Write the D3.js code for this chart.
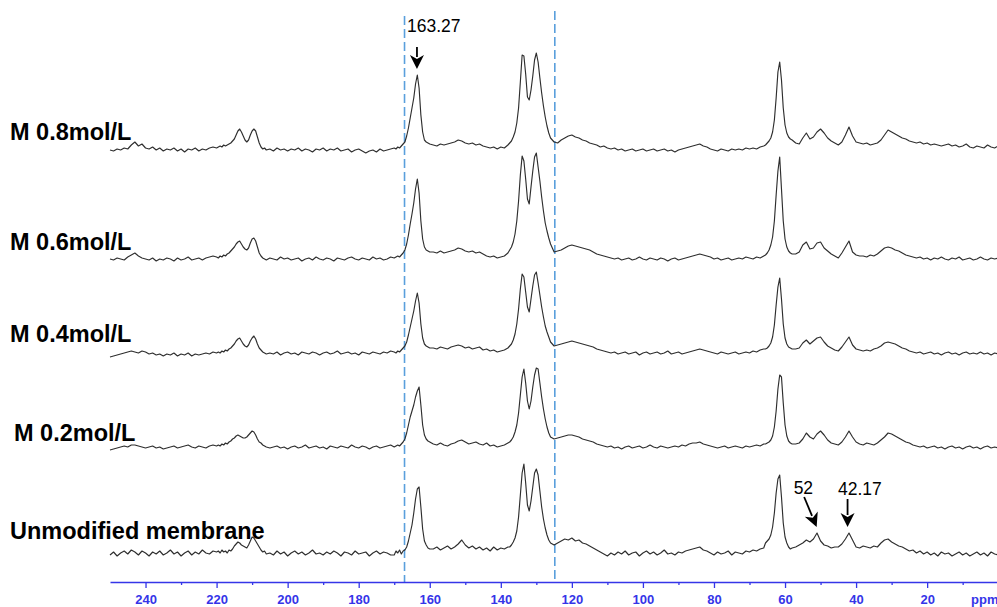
<!DOCTYPE html>
<html><head><meta charset="utf-8">
<script src="https://cdn.jsdelivr.net/npm/d3@7"></script>
<style>body{margin:0;background:#fff;overflow:hidden}</style>
</head><body>
<svg id="chart" width="997" height="607"></svg>
<script>
// ---- chemical-shift sampling segments [start ppm, end ppm, step] ----
const ppmSegments = [[250,221,1],[220,206,0.5],[205,171,1],[170,160,0.5],[159,138,1],[137.5,126,0.5],[125,66,1],[65.5,58,0.5],[57,0,1]];

// ---- intensities, one sub-array per segment ----
const spec08 = [
 [0,-1,1,0,2,1,5,8,4,6, 2,1,3,0,2,-1,1,0,2,-1, 1,-2,1,0,2,-1,1,0,2,3],
 [2,3,4,3,5,4,5,6,7,9, 11,15,19,21,18,14,10,8,10,15, 19,21,19,13,7,3,1,2,0],
 [1,-1,2,0,1,-1,1,0,2,-1, 1,0,-2,1,0,2,-1,1,0,2, -1,0,1,-2,0,1,-1,-3,-1,0, -2,1,-1,0,1],
 [2,1,3,2,4,6,8,14,22,32, 42,52,66,75,62,35,18,10,8,7, 6],
 [5,4,6,5,6,7,8,10,9,7, 6,7,5,6,4,3,2,3,1,3, 2,5],
 [7,9,13,18,27,42,68,95,94,76, 53,50,60,74,90,97,88,72,57,44, 33,24,17,12],
 [8,7,10,12,14,15,13,12,10,9, 7,6,5,3,4,2,1,2,0,1, -1,0,1,-1,0,1,-1,0,1,-1, 0,1,-1,0,-2,0,1,2,3,4, 5,6,4,3,1,0,-1,1,0,-1, 1,0,1,0,2,1,2,1,3,4],
 [5,7,9,12,18,30,52,78,88,70, 42,25,17,13,11,10],
 [7,6,12,17,11,13,18,21,17,12, 9,7,5,8,15,23,14,8,7,6, 7,5,6,7,10,15,20,18,16,14, 12,11,9,8,7,8,6,7,5,6, 5,4,5,6,4,5,3,4,6,3, 2,4,3,2,5,3,2,4]
];
const spec06 = [
 [0,-1,1,0,-1,2,4,6,3,1, 0,-1,1,-2,0,-1,1,0,-2,1, -1,0,2,-1,0,1,-1,1,2,3],
 [2,1,3,2,4,3,5,6,8,10, 12,15,17,18,15,12,10,9,11,16, 20,21,18,12,6,3,1,0,-1],
 [1,0,-1,2,0,1,-1,0,1,-2, 0,1,-1,2,0,-1,1,0,-2,1, 0,-1,1,2,0,-1,1,0,-1,2, 0,1,-1,0,2],
 [1,2,3,2,4,6,9,15,24,35, 45,56,70,80,66,38,20,12,9,8, 7],
 [7,6,8,6,7,8,9,11,10,8, 7,8,6,7,5,3,2,3,1,2, 3,6],
 [9,12,17,25,38,58,84,103,98,80, 60,55,72,88,102,106,92,78,62,48, 36,28,21,15],
 [7,8,9,11,13,14,13,12,11,10, 9,7,5,4,3,2,1,0,1,-1, 0,1,-1,0,2,0,-1,1,0,-1, 1,0,-2,0,1,-1,0,1,2,3, 4,5,4,3,2,0,1,-1,0,1, -1,0,1,0,2,1,0,2,1,3],
 [4,6,9,14,22,38,64,88,102,70, 38,20,12,8,6,5],
 [5,7,14,17,10,11,16,17,11,8, 5,3,1,6,12,18,7,4,3,3, 2,4,3,5,8,11,12,11,9,8, 6,4,3,2,1,2,0,1,-1,1, 0,2,0,-1,1,0,2,-1,0,1, -1,0,2,0,-1,1,0,1]
];
const spec04 = [
 [-4,-3,-2,-1,0,1,2,1,0,2, 1,-1,0,-2,-1,-3,-1,-2,0,-3, -1,-2,0,-3,-1,-2,-1,0,-1,1],
 [0,1,0,2,1,3,2,4,5,7, 9,12,14,15,12,9,7,6,8,12, 15,17,14,9,5,3,1,0,-1],
 [0,-1,1,-2,0,1,-1,0,-2,1, 0,-1,1,0,-2,0,1,-1,0,2, -1,0,1,-1,0,-2,1,0,-1,1, 0,-1,1,0,2],
 [1,0,2,1,3,5,7,11,18,26, 34,42,52,60,50,29,15,9,7,6, 5],
 [5,4,6,5,4,6,7,8,7,5, 6,4,5,6,3,4,2,3,1,2, 3,5],
 [7,9,13,19,29,44,64,79,76,61, 46,41,54,67,78,81,70,58,46,36, 27,21,16,11],
 [7,8,9,10,11,12,11,10,9,8, 7,6,4,3,2,1,0,1,-1,0, 1,-1,0,1,-2,0,1,-1,0,1, -1,0,2,-1,0,1,-1,0,1,2, 3,4,3,2,1,0,-1,1,0,-1, 0,1,-1,0,1,0,2,1,3,4],
 [4,5,7,10,16,28,48,66,75,54, 29,15,9,6,5,4],
 [4,5,10,13,9,12,15,16,11,7, 5,3,2,6,11,16,8,4,3,2, 3,2,4,5,7,10,11,10,9,7, 5,4,2,1,0,1,-1,0,1,-1, 0,-2,0,1,-1,0,-2,0,1,-1, 0,-1,1,-1,0,-2,0,-1]
];
const spec02 = [
 [-3,-2,-1,0,1,0,2,2,1,0, -1,0,1,-1,0,-2,-1,0,1,-1, 0,1,2,0,-1,1,0,-1,1,2],
 [1,2,1,3,2,4,3,5,6,8, 9,11,12,11,10,9,9,10,12,14, 16,15,12,8,5,4,2,1,0],
 [-1,0,1,-1,0,-2,0,1,-1,0, 2,-1,0,1,-1,0,-2,1,0,-1, 1,0,-1,2,0,-1,1,0,-2,0, 1,-1,0,1,2],
 [0,1,2,1,3,5,8,14,22,30, 36,42,50,56,60,42,22,12,8,6, 5],
 [3,2,4,2,1,3,4,6,7,5, 3,4,5,3,2,4,1,2,0,1, 2,4],
 [5,7,10,15,22,34,52,70,78,64, 46,38,46,60,72,79,78,64,50,38, 28,20,14,10],
 [8,9,10,11,12,12,11,10,8,7, 6,5,3,2,1,0,1,-1,0,-2, 0,1,-1,0,1,-1,0,2,0,-1, 1,0,-1,0,1,0,2,1,3,4, 4,5,3,2,1,0,-1,0,1,-1, 0,1,0,-1,1,0,1,2,1,3],
 [3,4,5,7,11,20,36,58,72,70, 44,22,11,6,4,3],
 [3,4,8,14,10,8,13,16,12,7, 4,3,2,5,10,16,10,5,3,2, 4,3,2,4,7,10,14,13,11,9, 7,5,4,2,1,0,1,-1,0,1, -1,0,-2,0,1,-1,0,-2,0,1, -1,0,-2,0,1,-1,0,-1]
];
const specUnmod = [
 [-2,1,-3,0,2,-1,3,1,-2,2, 0,-3,1,-1,2,-2,0,3,-1,1, -3,0,2,-2,1,-1,3,0,-1,2],
 [1,2,0,3,1,2,0,3,2,4, 7,9,11,10,8,7,6,5,8,12, 16,15,12,9,6,3,1,2,-1],
 [0,-2,2,-1,1,-3,0,2,-1,1, -2,0,3,-1,0,-2,1,-1,2,0, -3,1,0,-2,2,-1,0,1,-3,0, 2,-1,1,0,-2],
 [-2,2,0,3,-1,2,3,6,12,20, 28,40,54,64,66,46,24,12,8,5, 4],
 [4,6,3,5,7,4,6,9,13,8, 5,7,4,6,3,5,2,6,3,5, 4,6],
 [6,8,11,15,22,36,58,80,89,70, 48,42,52,66,80,84,78,62,46,34, 25,18,13,10],
 [8,10,12,14,13,15,12,13,10,9, 7,5,3,1,-1,-3,0,-2,1,-1, 2,-2,0,1,-3,0,2,-1,1,-2, 0,3,-1,0,-2,1,0,2,3,4, 5,6,3,2,0,-2,1,-1,0,2, -2,1,0,-1,2,1,3,2,4,5],
 [10,12,14,18,26,40,60,74,78,56, 30,16,10,6,4,5],
 [6,8,10,13,11,14,20,12,8,7, 5,6,6,9,14,20,13,6,5,7, 6,5,7,6,10,13,14,11,9,7, 6,4,2,3,0,2,-1,1,-2,0, -3,1,-1,0,-3,-1,1,-2,0,-3, -1,1,-2,0,-3,1,-1,-2]
];

const traceLabels = ["M 0.8mol/L","M 0.6mol/L","M 0.4mol/L","M 0.2mol/L","Unmodified membrane"];
const majorTicks = [240,220,200,180,160,140,120,100,80,60,40,20];
const minorTicks = [230,210,190,170,150,130,110,90,70,50,30,10];
const markerPpm = [167.1, 124.8];
const annotations = [
  {text:"163.27", ppm:163.6, trace:0},
  {text:"52", ppm:51.1, trace:4},
  {text:"42.17", ppm:42.4, trace:4}
];

// ---- layout ----
const baselines = [150, 259, 353, 447, 553];
const labelPos = [[10,139.5],[10,249.5],[10,342],[14,441],[10,539]];
const axisY = 582;
const FONT = "'Liberation Sans', Arial, Helvetica, sans-serif";
const BLUE = "#3535e8";

const svg = d3.select("#chart");
const x = d3.scaleLinear().domain([250, 0]).range([110, 998.2]);

const allSpectra = [spec08, spec06, spec04, spec02, specUnmod];

const series = allSpectra.map((segs, i) => {
  const pts = [];
  segs.forEach((vals, si) => {
    const [a,b,s] = ppmSegments[si];
    const ppms = d3.range(a, b - s/2, -s);
    const n = Math.min(ppms.length, vals.length);
    for (let j = 0; j < n; j++) pts.push({ppm: ppms[j], v: vals[j]});
  });
  const ys = d3.scaleLinear().domain([0, 100]).range([baselines[i], baselines[i] - 100]);
  return {pts, ys};
});

// dashed reference lines
const markerTops = [16, 11];
svg.selectAll("line.marker").data(markerPpm).join("line")
  .attr("class","marker")
  .attr("x1", d => x(d)).attr("x2", d => x(d))
  .attr("y1", (d,i) => markerTops[i]).attr("y2", axisY)
  .attr("stroke", "#5a9fdc").attr("stroke-width", 1.6)
  .attr("stroke-dasharray", "9,4");

// spectra
series.forEach(s => {
  const line = d3.line().x(d => x(d.ppm)).y(d => s.ys(d.v));
  svg.append("path").datum(s.pts)
    .attr("d", line)
    .attr("fill", "none")
    .attr("stroke", "#2e2e2e")
    .attr("stroke-width", 1.15)
    .attr("stroke-linejoin", "round");
});

// labels
svg.selectAll("text.tlabel").data(traceLabels).join("text")
  .attr("class","tlabel")
  .attr("x", (d,i) => labelPos[i][0]).attr("y", (d,i) => labelPos[i][1])
  .attr("font-family", FONT).attr("font-weight", "bold").attr("font-size", 23.5)
  .attr("fill", "#000").text(d => d);

// axis
const gAxis = svg.append("g").attr("transform", `translate(0,${axisY})`);
gAxis.call(d3.axisBottom(x).tickValues(majorTicks).tickSize(6).tickSizeOuter(0).tickPadding(7).tickFormat(d3.format("d")));
gAxis.select(".domain").attr("stroke", BLUE).attr("stroke-width", 1.3);
gAxis.selectAll(".tick line").attr("stroke", BLUE).attr("stroke-width", 1.3);
gAxis.selectAll(".tick text").attr("fill", BLUE).attr("font-family", FONT)
  .attr("font-weight", "bold").attr("font-size", 13);
const gMinor = svg.append("g").attr("transform", `translate(0,${axisY})`);
gMinor.call(d3.axisBottom(x).tickValues(minorTicks).tickSize(3).tickSizeOuter(0).tickFormat(""));
gMinor.select(".domain").remove();
gMinor.selectAll(".tick line").attr("stroke", BLUE).attr("stroke-width", 1.3);
svg.append("text").attr("x", 971).attr("y", 604)
  .attr("font-family", FONT).attr("font-weight","bold").attr("font-size", 13)
  .attr("fill", BLUE).text("ppm");

// annotations with arrows
function arrow(x1, y1, x2, y2) {
  const dx = x2 - x1, dy = y2 - y1, L = Math.hypot(dx, dy);
  const ux = dx / L, uy = dy / L, hl = 14, hw = 7;
  const bx = x2 - ux * hl, by = y2 - uy * hl;
  svg.append("line").attr("x1", x1).attr("y1", y1).attr("x2", bx + ux*2).attr("y2", by + uy*2)
    .attr("stroke", "#000").attr("stroke-width", 1.8);
  svg.append("path")
    .attr("d", `M${x2},${y2}L${bx - uy*hw},${by + ux*hw}L${bx + ux*4},${by + uy*4}L${bx + uy*hw},${by - ux*hw}Z`)
    .attr("fill", "#000");
}
function peakValue(trace, ppm) {
  const pts = series[trace].pts.filter(p => Math.abs(p.ppm - ppm) <= 0.6);
  return d3.max(pts, p => p.v);
}
annotations.forEach(a => {
  const s = series[a.trace];
  const px = x(a.ppm);
  const tipY = s.ys(peakValue(a.trace, a.ppm)) - 6;
  if (a.text === "163.27") {
    arrow(px, tipY - 22, px, tipY);
    svg.append("text").attr("x", px - 10).attr("y", tipY - 37).text(a.text)
      .attr("font-family", FONT).attr("font-size", 17.5).attr("fill", "#000");
  } else if (a.text === "52") {
    arrow(px - 12.5, tipY - 30, px, tipY);
    svg.append("text").attr("x", px - 23).attr("y", tipY - 33).text(a.text)
      .attr("font-family", FONT).attr("font-size", 17.5).attr("fill", "#000");
  } else {
    arrow(px, tipY - 28, px, tipY);
    svg.append("text").attr("x", px - 9.5).attr("y", tipY - 32).text(a.text)
      .attr("font-family", FONT).attr("font-size", 17.5).attr("fill", "#000");
  }
});
</script>
</body></html>
